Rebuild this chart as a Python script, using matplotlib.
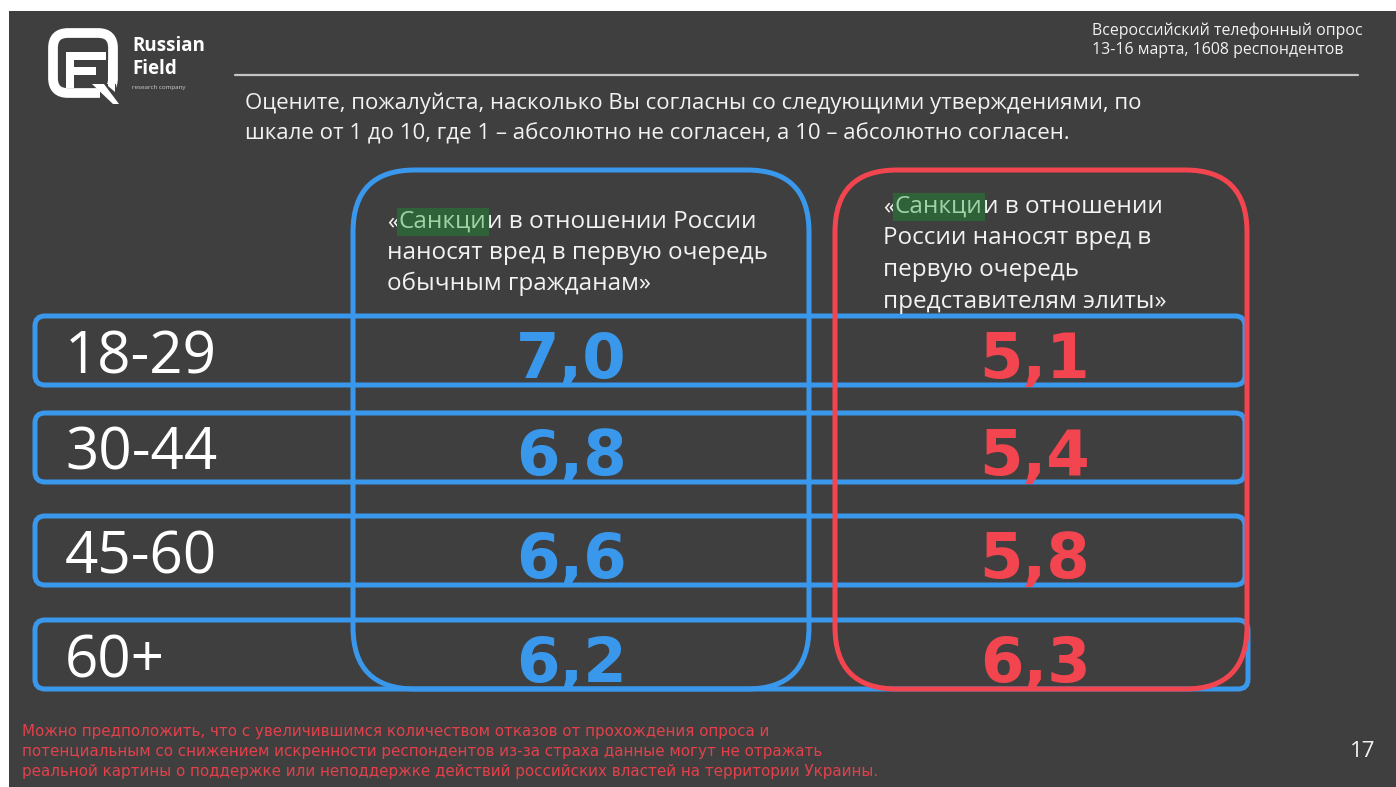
import matplotlib
matplotlib.use("Agg")
import matplotlib.pyplot as plt
from matplotlib.patches import FancyBboxPatch, Rectangle, Polygon

plt.rcParams['font.family'] = ['Open Sans', 'DejaVu Sans']

# ---------------- data ----------------
age_groups = ['18-29', '30-44', '45-60', '60+']
citizens = [7.0, 6.8, 6.6, 6.2]
elite = [5.1, 5.4, 5.8, 6.3]

source_lines = ['Всероссийский телефонный опрос', '13-16 марта, 1608 респондентов']
question_lines = ['Оцените, пожалуйста, насколько Вы согласны со следующими утверждениями, по',
                  'шкале от 1 до 10, где 1 – абсолютно не согласен, а 10 – абсолютно согласен.']
highlight_word = 'Санкци'
col1_lines = [('«', highlight_word, 'и в отношении России'),
              'наносят вред в первую очередь', 'обычным гражданам»']
col2_lines = [('«', highlight_word, 'и в отношении'),
              'России наносят вред в', 'первую очередь', 'представителям элиты»']
footnote_lines = ['Можно предположить, что с увеличившимся количеством отказов от прохождения опроса и',
                  'потенциальным со снижением искренности респондентов из-за страха данные могут не отражать',
                  'реальной картины о поддержке или неподдержке действий российских властей на территории Украины.']
page_number = '17'

# ---------------- style ----------------
BG = '#3f3f3f'
BLUE = '#3a98ec'
RED = '#f2454f'
WHITE = '#f2f2f2'
HL_BG = '#2f6239'
HL_FG = '#9fd3a6'
FOOT = '#e2414b'

W, H = 1396, 787
fig = plt.figure(figsize=(W / 100, H / 100), dpi=100, facecolor='white')
ax = fig.add_axes([0, 0, 1, 1])
ax.set_xlim(0, W)
ax.set_ylim(H, 0)
ax.axis('off')

# slide background
ax.add_patch(Rectangle((9, 11), W - 9, H - 11, facecolor=BG, edgecolor='none', zorder=0))

# ---------------- logo ----------------
ax.add_patch(FancyBboxPatch((53, 33), 60, 60, boxstyle='round,pad=0,rounding_size=15',
                            facecolor='none', edgecolor='white', lw=7, zorder=2))
ax.add_patch(Rectangle((100, 84), 16, 16, facecolor=BG, edgecolor='none', zorder=3))
ax.add_patch(Polygon([(92, 84), (104, 84), (119, 104), (113, 104)], closed=True,
                     facecolor='white', edgecolor='none', zorder=4))
ax.add_patch(Polygon([(108, 60), (115, 60), (115, 92), (108, 86)], closed=True,
                     facecolor='white', edgecolor='none', zorder=4))
# F inside
ax.add_patch(Rectangle((66, 52), 8, 36, facecolor='white', edgecolor='none', zorder=4))
ax.add_patch(Rectangle((66, 52), 40, 8, facecolor='white', edgecolor='none', zorder=4))
ax.add_patch(Rectangle((66, 67), 30, 8, facecolor='white', edgecolor='none', zorder=4))
ax.text(132, 51, 'Russian', color='white', fontsize=13.5, fontweight='bold', va='baseline', ha='left')
ax.text(132, 74, 'Field', color='white', fontsize=13.5, fontweight='bold', va='baseline', ha='left')
ax.text(132, 89, 'research company', color='#cfcfcf', fontsize=4.5, va='baseline', ha='left')

# ---------------- header ----------------
for i, line in enumerate(source_lines):
    ax.text(1092, 35 + 19 * i, line, color=WHITE, fontsize=11.4, va='baseline', ha='left')
ax.plot([235, 1358], [75, 75], color='#c4c4c4', lw=1.6, solid_capstyle='round')
for i, line in enumerate(question_lines):
    ax.text(245, 109 + 30.5 * i, line, color=WHITE, fontsize=16, va='baseline', ha='left')


def header_block(x, y0, lines, step, fs):
    for i, line in enumerate(lines):
        y = y0 + step * i
        if isinstance(line, tuple):
            pre, hl, post = line
            t1 = ax.text(x, y, pre, color=WHITE, fontsize=fs, va='baseline', ha='left', zorder=6)
            t2 = ax.annotate(hl, xy=(1, 0), xycoords=t1, va='bottom', ha='left', color=HL_FG,
                             fontsize=fs, zorder=6,
                             bbox=dict(boxstyle='square,pad=0.08', facecolor=HL_BG, edgecolor='none'))
            ax.annotate(post, xy=(1, 0), xycoords=t2, va='bottom', ha='left', color=WHITE,
                        fontsize=fs, zorder=6)
        else:
            ax.text(x, y, line, color=WHITE, fontsize=fs, va='baseline', ha='left', zorder=6)


header_block(387, 228, col1_lines, 31, 17.5)
header_block(883, 213, col2_lines, 31.5, 17.5)

# ---------------- rows ----------------
row_tops = [316, 413, 516, 620]
row_h = 69
for i, (lab, a, b) in enumerate(zip(age_groups, citizens, elite)):
    top = row_tops[i]
    right = 1245 if i < 3 else 1248
    ax.add_patch(FancyBboxPatch((35, top), right - 35, row_h,
                                boxstyle='round,pad=0,rounding_size=10',
                                facecolor='none', edgecolor=BLUE, lw=3.6, zorder=3))
    ax.text(65, top + 57, lab, color='white', fontsize=42, va='baseline', ha='left', zorder=6)
    ax.text(571, top + 62, f'{a:.1f}'.replace('.', ','), color=BLUE, fontsize=45,
            fontweight='bold', family='DejaVu Sans', va='baseline', ha='center', zorder=6)
    ax.text(1035, top + 62, f'{b:.1f}'.replace('.', ','), color=RED, fontsize=45,
            fontweight='bold', family='DejaVu Sans', va='baseline', ha='center', zorder=6)

# ---------------- columns ----------------
ax.add_patch(FancyBboxPatch((353, 170), 809 - 353, 689 - 170,
                            boxstyle='round,pad=0,rounding_size=62',
                            facecolor='none', edgecolor=BLUE, lw=3.6, zorder=4))
ax.add_patch(FancyBboxPatch((835, 170), 1247 - 835, 689 - 170,
                            boxstyle='round,pad=0,rounding_size=62',
                            facecolor='none', edgecolor=RED, lw=3.6, zorder=4))

# ---------------- footer ----------------
for i, line in enumerate(footnote_lines):
    ax.text(22, 736 + 20 * i, line, color=FOOT, fontsize=10.9, va='baseline', ha='left',
            family=['Liberation Sans Narrow', 'DejaVu Sans'])
ax.text(1363, 757, page_number, color=WHITE, fontsize=16, va='baseline', ha='center')

fig.savefig('out.png', dpi=100, facecolor='white')
